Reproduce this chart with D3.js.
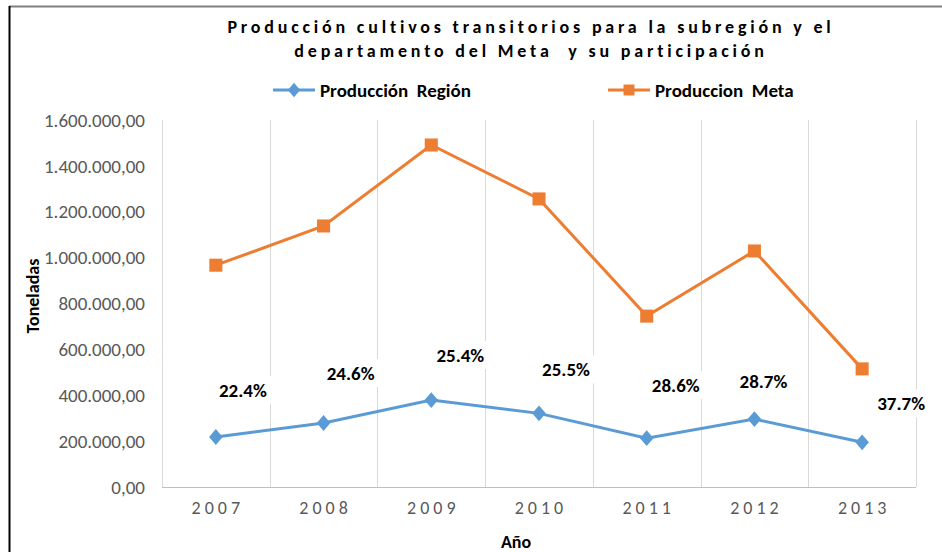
<!DOCTYPE html>
<html>
<head>
  <meta charset="utf-8">
  <script src="https://cdn.jsdelivr.net/npm/d3@7"></script>
  <style>
    body { margin: 0; background: #fff; }
    svg { display: block; font-family: Carlito, Calibri, "Liberation Sans", sans-serif; }
  </style>
</head>
<body>
<script>
  // chart data
  var years = ["2007", "2008", "2009", "2010", "2011", "2012", "2013"];
  var produccionRegion = [218000, 279000, 379000, 321000, 213000, 296000, 195000];
  var produccionMeta = [967000, 1138000, 1491000, 1256000, 745000, 1029000, 515000];
  var participacion = ["22.4%", "24.6%", "25.4%", "25.5%", "28.6%", "28.7%", "37.7%"];
  var yTicks = [0, 200000, 400000, 600000, 800000, 1000000, 1200000, 1400000, 1600000];

  // hand placed label nudges (px from the Region point), like the original
  var labelNudge = [[27, -47], [27, -50], [29, -45], [27, -44], [29, -53], [9, -38], [39, -39]];

  var width = 942, height = 552;
  var plotLeft = 162, plotRight = 916, plotTop = 120, plotBottom = 487;
  var blue = "#5b9bd5", orange = "#ed7d31";

  var svg = d3.select("body").append("svg")
      .attr("width", width)
      .attr("height", height);

  // frame (only top and left edges show)
  svg.append("line").attr("x1", 9).attr("x2", width).attr("y1", 6.5).attr("y2", 6.5)
     .style("stroke", "#7f7f7f").style("stroke-width", 2);
  svg.append("line").attr("x1", 9.5).attr("x2", 9.5).attr("y1", 6).attr("y2", height)
     .style("stroke", "#000").style("stroke-width", 2);

  var x = d3.scaleBand().domain(years).range([plotLeft, plotRight]);
  var y = d3.scaleLinear().domain([0, 1600000]).range([plotBottom, plotTop]);
  var cx = function (d) { return x(d) + x.bandwidth() / 2; };

  /*
    vertical gridlines on category edges
  */
  var edges = years.slice(1).map(function (d) { return x(d); }).concat([plotRight]);
  svg.selectAll(".grid").data(edges).enter().append("line")
      .attr("class", "grid")
      .attr("x1", function (d) { return Math.round(d) + 0.5; })
      .attr("x2", function (d) { return Math.round(d) + 0.5; })
      .attr("y1", plotTop).attr("y2", plotBottom)
      .style("stroke", "#d9d9d9");

  // axis lines
  svg.append("line").attr("x1", plotLeft + 0.5).attr("x2", plotLeft + 0.5)
     .attr("y1", plotTop).attr("y2", plotBottom)
     .style("stroke", "#d9d9d9");
  svg.append("line").attr("x1", plotLeft).attr("x2", plotRight)
     .attr("y1", plotBottom + 0.5).attr("y2", plotBottom + 0.5)
     .style("stroke", "#bfbfbf");

  /*
    y tick labels in es format
  */
  var es = d3.formatLocale({ decimal: ",", thousands: ".", grouping: [3], currency: ["", ""] });
  var fmt = es.format(",.2f");
  svg.selectAll(".ytick").data(yTicks).enter().append("text")
      .attr("class", "ytick")
      .attr("x", 145)
      .attr("y", function (d) { return y(d); })
      .attr("dy", "0.35em")
      .attr("text-anchor", "end")
      .style("font-size", "19px")
      .style("fill", "#595959")
      .text(function (d) { return fmt(d); });

  // x tick labels
  svg.selectAll(".xtick").data(years).enter().append("text")
      .attr("class", "xtick")
      .attr("x", function (d) { return cx(d) + 2; })
      .attr("y", 514)
      .attr("text-anchor", "middle")
      .style("font-size", "18px")
      .style("letter-spacing", "4px")
      .style("fill", "#595959")
      .text(function (d) { return d; });

  // axis titles
  svg.append("text").attr("x", 516).attr("y", 548).attr("text-anchor", "middle")
     .style("font-size", "18px").style("font-weight", "bold").text("Año");
  svg.append("text").attr("transform", "translate(39,296) rotate(-90)").attr("text-anchor", "middle")
     .style("font-size", "18px").style("font-weight", "bold").text("Toneladas");

  // title
  svg.selectAll(".title")
      .data(["Producción cultivos transitorios para la subregión y el",
             "departamento del Meta  y su participación"])
      .enter().append("text")
      .attr("class", "title")
      .attr("x", 531)
      .attr("y", function (d, i) { return 33 + i * 24; })
      .attr("text-anchor", "middle")
      .style("font-size", "18px")
      .style("font-weight", "bold")
      .style("letter-spacing", "3.8px")
      .style("white-space", "pre")
      .text(function (d) { return d; });

  /*
    lines and markers
  */
  var line = d3.line()
      .x(function (d, i) { return cx(years[i]); })
      .y(function (d) { return y(d); });

  svg.append("path").datum(produccionMeta).attr("d", line)
     .style("fill", "none").style("stroke", orange).style("stroke-width", 3);
  svg.append("path").datum(produccionRegion).attr("d", line)
     .style("fill", "none").style("stroke", blue).style("stroke-width", 3);

  // excel style diamond: a bit taller than wide
  var excelDiamond = {
    draw: function (ctx, size) {
      var w = Math.sqrt(size) * 0.62, h = Math.sqrt(size) * 0.72;
      ctx.moveTo(0, -h); ctx.lineTo(w, 0); ctx.lineTo(0, h); ctx.lineTo(-w, 0); ctx.closePath();
    }
  };
  var square = d3.symbol().type(d3.symbolSquare).size(170);
  var diamond = d3.symbol().type(excelDiamond).size(120);

  svg.selectAll(".meta").data(produccionMeta).enter().append("path")
      .attr("class", "meta")
      .attr("d", square)
      .attr("transform", function (d, i) { return "translate(" + cx(years[i]) + "," + y(d) + ")"; })
      .style("fill", orange);

  svg.selectAll(".region").data(produccionRegion).enter().append("path")
      .attr("class", "region")
      .attr("d", diamond)
      .attr("transform", function (d, i) { return "translate(" + cx(years[i]) + "," + y(d) + ")"; })
      .style("fill", blue);

  /*
    participation labels with white boxes
  */
  var lab = svg.selectAll(".pct").data(participacion).enter().append("g")
      .attr("class", "pct")
      .attr("transform", function (d, i) {
        return "translate(" + (cx(years[i]) + labelNudge[i][0]) + "," +
               (y(produccionRegion[i]) + labelNudge[i][1]) + ")";
      });
  lab.append("rect").attr("x", -30).attr("y", -14).attr("width", 60).attr("height", 28)
     .style("fill", "#fff");
  lab.append("text").attr("text-anchor", "middle").attr("dy", "0.35em")
     .style("font-size", "19px").style("font-weight", "bold")
     .text(function (d) { return d; });

  /*
    legend
  */
  var legend = [
    { name: "Producción  Región", color: blue, sym: d3.symbol().type(excelDiamond).size(100), x: 273 },
    { name: "Produccion  Meta", color: orange, sym: d3.symbol().type(d3.symbolSquare).size(120), x: 608 }
  ];
  var lg = svg.selectAll(".legend").data(legend).enter().append("g")
      .attr("class", "legend")
      .attr("transform", function (d) { return "translate(" + d.x + ",90)"; });
  lg.append("line").attr("x1", 0).attr("x2", 42)
    .style("stroke", function (d) { return d.color; }).style("stroke-width", 3);
  lg.append("path").attr("d", function (d) { return d.sym(); })
    .attr("transform", "translate(21,0)")
    .style("fill", function (d) { return d.color; });
  lg.append("text").attr("x", 47).attr("dy", "0.35em")
    .style("font-size", "19px").style("font-weight", "bold")
    .style("white-space", "pre")
    .text(function (d) { return d.name; });
</script>
</body>
</html>
